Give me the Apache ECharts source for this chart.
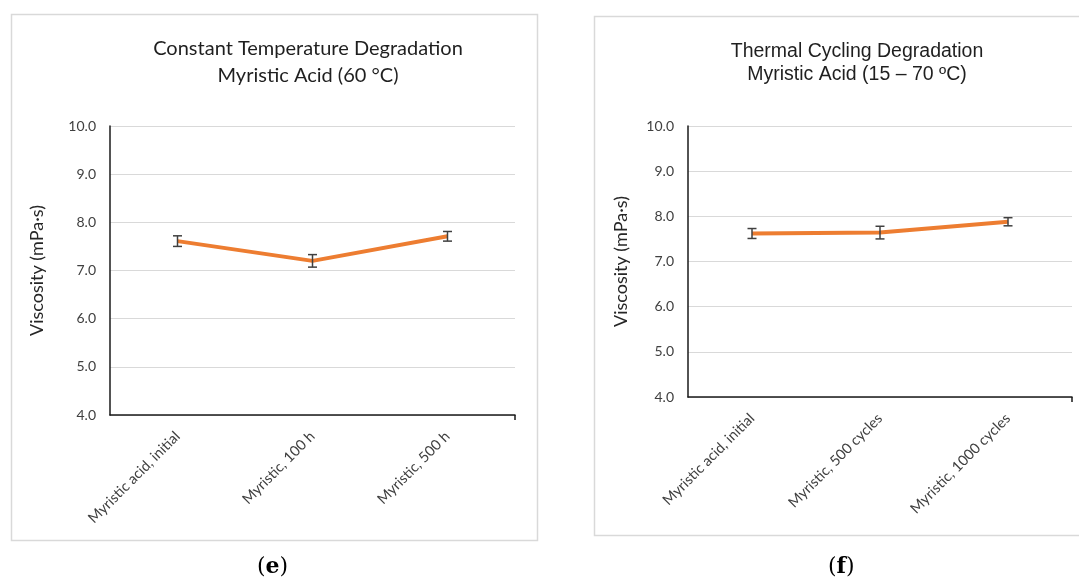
<!DOCTYPE html>
<html>
<head>
<meta charset="utf-8">
<script src="https://cdn.jsdelivr.net/npm/echarts@6/dist/echarts.min.js"></script>
<style>
html,body{margin:0;padding:0;background:#fff;}
#c{width:1079px;height:584px;}
</style>
</head>
<body>
<div id="c"></div>
<script>
// ---- data ----
const catsE = ['Myristic acid, initial', 'Myristic, 100 h', 'Myristic, 500 h'];
const valsE = [7.61, 7.20, 7.71];
const errE  = [0.11, 0.13, 0.10];

const catsF = ['Myristic acid, initial', 'Myristic, 500 cycles', 'Myristic, 1000 cycles'];
const valsF = [7.62, 7.64, 7.88];
const errF  = [0.11, 0.14, 0.09];

const yMin = 4, yMax = 10, yStep = 1;
const titleE = ['Constant Temperature Degradation', 'Myristic Acid (60 °C)'];
const titleF = ['Thermal Cycling Degradation', 'Myristic Acid (15 – 70 ºC)'];
const yName = 'Viscosity (mPa·s)';
const panelE = 'e', panelF = 'f';

const chart = echarts.init(document.getElementById('c'), null, {renderer: 'canvas'});

function errData(vals, errs) {
  return vals.map((v, i) => [i, v - errs[i], v + errs[i]]);
}
function errRender(params, api) {
  const i = api.value(0);
  const lo = api.coord([i, api.value(1)]);
  const hi = api.coord([i, api.value(2)]);
  const w = 4.5;
  const st = {stroke: '#404040', lineWidth: 1.5};
  return {
    type: 'group',
    children: [
      {type: 'line', shape: {x1: lo[0], y1: lo[1], x2: hi[0], y2: hi[1]}, style: st},
      {type: 'line', shape: {x1: lo[0] - w, y1: lo[1], x2: lo[0] + w, y2: lo[1]}, style: st},
      {type: 'line', shape: {x1: hi[0] - w, y1: hi[1], x2: hi[0] + w, y2: hi[1]}, style: st}
    ]
  };
}
const fontE = 'Lato, "Open Sans", sans-serif';
const fontF = '"Liberation Sans", Arial, sans-serif';

function xAx(idx, cats) {
  return {
    type: 'category', gridIndex: idx, data: cats, boundaryGap: true,
    axisLine: {lineStyle: {color: '#1a1a1a', width: 1.5}},
    axisTick: {alignWithLabel: true, length: 5, lineStyle: {color: '#1a1a1a', width: 1.5}},
    axisLabel: {rotate: 45, margin: 19, color: '#404040', fontSize: 14.5, fontFamily: fontE, interval: 0},
    splitLine: {show: false}
  };
}
function endTickAx(idx, n) {
  return {
    type: 'value', gridIndex: idx, min: 0, max: n, interval: n, position: 'bottom',
    axisLine: {show: false},
    axisLabel: {show: false},
    axisTick: {show: true, customValues: [n], length: 5, lineStyle: {color: '#1a1a1a', width: 1.5}},
    splitLine: {show: false}
  };
}
function yAx(idx, gap) {
  return {
    type: 'value', gridIndex: idx, min: yMin, max: yMax, interval: yStep,
    name: yName, nameLocation: 'middle', nameGap: gap, nameRotate: 90,
    nameTextStyle: {fontSize: 18, color: '#262626', fontFamily: fontE},
    axisLine: {show: true, lineStyle: {color: '#1a1a1a', width: 1.5}},
    axisTick: {show: false},
    axisLabel: {formatter: v => v.toFixed(1), color: '#404040', fontSize: 14, margin: 14, fontFamily: fontE},
    splitLine: {lineStyle: {color: '#d9d9d9', width: 1.2}}
  };
}

chart.setOption({
  animation: false,
  backgroundColor: '#fff',
  title: [
    {text: titleE.join('\n'), left: 303, top: 30, textAlign: 'center',
     textStyle: {fontSize: 20, fontWeight: 'normal', color: '#1f1f1f', fontFamily: fontE, lineHeight: 27}},
    {text: titleF.join('\n'), left: 852, top: 35, textAlign: 'center',
     textStyle: {fontSize: 19.5, fontWeight: 'normal', color: '#1f1f1f', fontFamily: fontF, lineHeight: 23}}
  ],
  grid: [
    {left: 110, top: 126, width: 405, height: 289},
    {left: 688, top: 126, width: 384, height: 271}
  ],
  xAxis: [xAx(0, catsE), xAx(1, catsF), endTickAx(0, catsE.length), endTickAx(1, catsF.length)],
  yAxis: [yAx(0, 64), yAx(1, 58)],
  series: [
    {type: 'line', xAxisIndex: 0, yAxisIndex: 0, data: valsE, showSymbol: false, symbol: 'none',
     lineStyle: {color: '#ED7D31', width: 4}, z: 3},
    {type: 'custom', xAxisIndex: 0, yAxisIndex: 0, data: errData(valsE, errE), renderItem: errRender, z: 4},
    {type: 'line', xAxisIndex: 1, yAxisIndex: 1, data: valsF, showSymbol: false, symbol: 'none',
     lineStyle: {color: '#ED7D31', width: 4}, z: 3},
    {type: 'custom', xAxisIndex: 1, yAxisIndex: 1, data: errData(valsF, errF), renderItem: errRender, z: 4}
  ],
  graphic: [
    {type: 'rect', left: 9, top: 12, shape: {width: 526, height: 526}, style: {fill: 'none', stroke: '#d9d9d9', lineWidth: 1.5}, z: -1},
    {type: 'rect', left: 592, top: 14, shape: {width: 500, height: 519}, style: {fill: 'none', stroke: '#d9d9d9', lineWidth: 1.5}, z: -1},
    {type: 'text', left: 257, top: 556, style: {
      text: '{p|(}{b|' + panelE + '}{p|)}',
      rich: {p: {fontSize: 22, fontFamily: '"DejaVu Serif", "Liberation Serif", serif', fill: '#000'},
             b: {fontSize: 22, fontWeight: 'bold', fontFamily: '"DejaVu Serif", "Liberation Serif", serif', fill: '#000'}}}},
    {type: 'text', left: 828, top: 556, style: {
      text: '{p|(}{b|' + panelF + '}{p|)}',
      rich: {p: {fontSize: 22, fontFamily: '"DejaVu Serif", "Liberation Serif", serif', fill: '#000'},
             b: {fontSize: 22, fontWeight: 'bold', fontFamily: '"DejaVu Serif", "Liberation Serif", serif', fill: '#000'}}}}
  ]
});
</script>
</body>
</html>
